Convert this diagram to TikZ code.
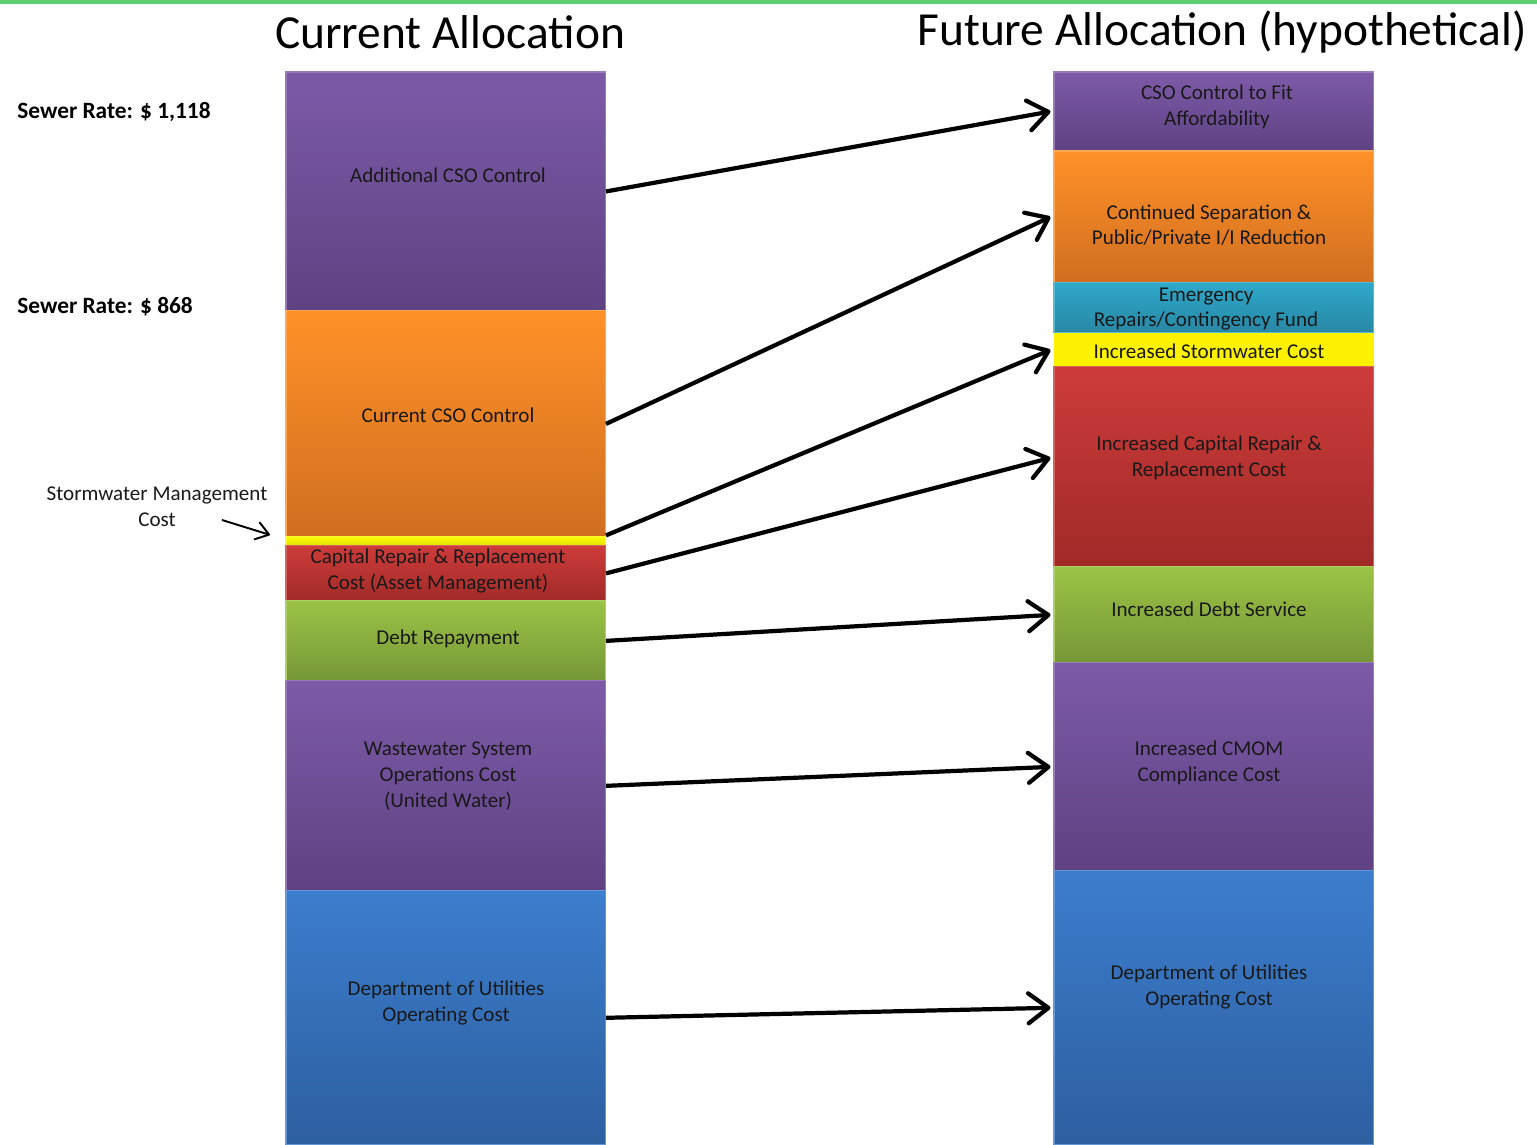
\documentclass[tikz,border=0pt]{standalone}
\usepackage{fontspec}
\setmainfont{Carlito}
\usetikzlibrary{positioning, arrows.meta}

\definecolor{topline}{RGB}{95,205,110}
\definecolor{purpletop}{RGB}{125,90,168}
\definecolor{purplebot}{RGB}{94,66,130}
\definecolor{orangetop}{RGB}{255,145,40}
\definecolor{orangebot}{RGB}{208,110,32}
\definecolor{yellowtop}{RGB}{250,250,0}
\definecolor{yellowbot}{RGB}{225,225,0}
\definecolor{redtop}{RGB}{205,60,58}
\definecolor{redbot}{RGB}{160,42,40}
\definecolor{greentop}{RGB}{155,195,70}
\definecolor{greenbot}{RGB}{118,150,55}
\definecolor{bluetop}{RGB}{60,125,205}
\definecolor{bluebot}{RGB}{45,95,160}
\definecolor{tealtop}{RGB}{46,168,202}
\definecolor{tealbot}{RGB}{40,135,165}

\tikzset{
    block/.style={rectangle, minimum width=6.4cm, inner sep=0pt, outer sep=0pt, line width=0.6pt},
    purpleblock/.style={block, top color=purpletop, bottom color=purplebot, draw=purpletop!80!white},
    orangeblock/.style={block, top color=orangetop, bottom color=orangebot, draw=orangetop!80!white},
    yellowblock/.style={block, top color=yellowtop, bottom color=yellowbot, draw=yellowtop!80!white},
    redblock/.style={block, top color=redtop, bottom color=redbot, draw=redtop!80!white},
    greenblock/.style={block, top color=greentop, bottom color=greenbot, draw=greentop!80!white},
    blueblock/.style={block, top color=bluetop, bottom color=bluebot, draw=bluetop!80!white},
    tealblock/.style={block, top color=tealtop, bottom color=tealbot, draw=tealtop!80!white},
    blocktext/.style={font=\fontsize{12}{14.6}\selectfont, align=center, text=black!90, inner sep=0pt},
    titletext/.style={font=\fontsize{27}{31}\selectfont, inner sep=0pt},
    ratetext/.style={font=\bfseries\fontsize{13.3}{15}\selectfont, anchor=west, inner sep=0pt},
    flow/.style={-{Straight Barb[length=4mm,width=6mm,round]}, line width=2.4pt},
}

\begin{document}
\begin{tikzpicture}[x=0.02cm, y=-0.02cm, node distance=0pt]
    \useasboundingbox (0,0) rectangle (1537,1145);

    % top rule
    \fill[topline] (0,0) rectangle (1537,4);

    % ===== Titles =====
    \node[titletext] (curtitle) at (450,32) {Current Allocation};
    \node[titletext] (futtitle) at (1222,32) {Future Allocation (hypothetical)};

    % ===== Sewer rates =====
    \node[ratetext] (ratehigh) at (17,112) {Sewer Rate: \$ 1,118};
    \node[ratetext] (ratelow) at (17,307) {Sewer Rate: \$ 868};

    % ===== Current allocation column =====
    \node[purpleblock, minimum height=4.78cm, anchor=north west] (addcso) at (286,72) {};
    \node[orangeblock, minimum height=4.52cm, below=of addcso] (curcso) {};
    \node[yellowblock, minimum height=0.18cm, below=of curcso] (storm) {};
    \node[redblock, minimum height=1.10cm, below=of storm] (capital) {};
    \node[greenblock, minimum height=1.60cm, below=of capital] (debt) {};
    \node[purpleblock, minimum height=4.20cm, below=of debt] (ops) {};
    \node[blueblock, minimum height=5.08cm, below=of ops] (dept) {};

    \node[blocktext] (addcsotext) at (448,175) {Additional CSO Control};
    \node[blocktext] (curcsotext) at (448,415) {Current CSO Control};
    \node[blocktext] (capitaltext) at (438,571) {Capital Repair \& Replacement\\Cost (Asset Management)};
    \node[blocktext] (debttext) at (448,639) {Debt Repayment};
    \node[blocktext] (opstext) at (448,776) {Wastewater System\\Operations Cost\\(United Water)};
    \node[blocktext] (depttext) at (446,1003) {Department of Utilities\\Operating Cost};

    % stormwater callout
    \node[blocktext] (stormtext) at (157,507) {Stormwater Management\\Cost};
    \coordinate (stormtail) at (222,520);
    \draw[-{Straight Barb[length=2.5mm,width=3.5mm,round]}, line width=1.1pt]
        (stormtail) -- ([xshift=-0.32cm, yshift=0.13cm]storm.west);

    % ===== Future allocation column =====
    \node[purpleblock, minimum height=1.58cm, anchor=north west] (fitcso) at (1054,72) {};
    \node[orangeblock, minimum height=2.64cm, below=of fitcso] (separation) {};
    \node[tealblock, minimum height=1.00cm, below=of separation] (emergency) {};
    \node[block, fill=yellow, minimum height=0.68cm, below=of emergency] (incstorm) {};
    \node[redblock, minimum height=4.00cm, below=of incstorm] (inccapital) {};
    \node[greenblock, minimum height=1.92cm, below=of inccapital] (incdebt) {};
    \node[purpleblock, minimum height=4.16cm, below=of incdebt] (cmom) {};
    \node[blueblock, minimum height=5.48cm, below=of cmom] (futdept) {};

    \node[blocktext] (fitcsotext) at (1217,107) {CSO Control to Fit\\Affordability};
    \node[blocktext] (separationtext) at (1209,225) {Continued Separation \&\\Public/Private I/I Reduction};
    \node[blocktext] (emergencytext) at (1206,309) {Emergency\\Repairs/Contingency Fund};
    \node[blocktext] (incstormtext) at (1209,351) {Increased Stormwater Cost};
    \node[blocktext] (inccapitaltext) at (1209,458) {Increased Capital Repair \&\\Replacement Cost};
    \node[blocktext] (incdebttext) at (1209,609) {Increased Debt Service};
    \node[blocktext] (cmomtext) at (1209,763) {Increased CMOM\\Compliance Cost};
    \node[blocktext] (futdepttext) at (1209,987) {Department of Utilities\\Operating Cost};

    % ===== Flows =====
    \draw[flow] (addcso.east) -- ([xshift=-2pt]fitcso.west);
    \draw[flow] (curcso.east) -- ([xshift=-2pt]separation.west);
    \draw[flow] ([yshift=0.12cm]storm.east) -- ([xshift=-2pt]incstorm.west);
    \draw[flow] (capital.east) -- ([xshift=-2pt, yshift=0.18cm]inccapital.west);
    \draw[flow] (debt.east) -- ([xshift=-2pt]incdebt.west);
    \draw[flow] (ops.east) -- ([xshift=-2pt]cmom.west);
    \draw[flow] (dept.east) -- ([xshift=-2pt]futdept.west);

\end{tikzpicture}
\end{document}
